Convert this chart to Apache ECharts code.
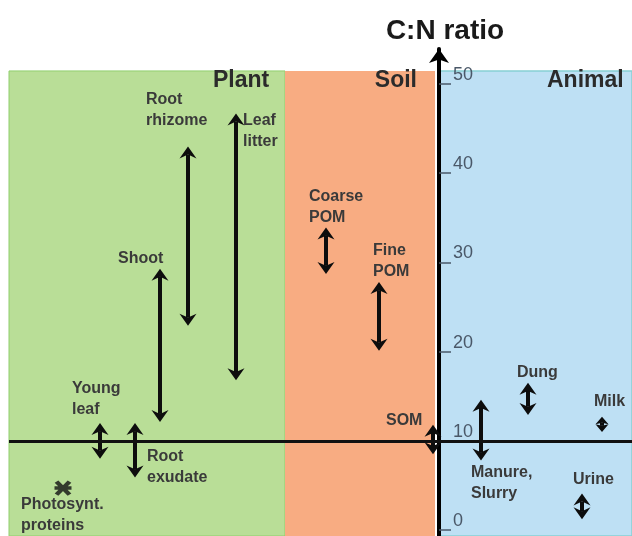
<!DOCTYPE html>
<html>
<head>
<meta charset="utf-8">
<title>C:N ratio</title>
<script src="https://cdn.jsdelivr.net/npm/echarts@6/dist/echarts.min.js"></script>
<style>
  html, body { margin: 0; padding: 0; background: #fff; }
  #chart { width: 632px; height: 536px; }
</style>
</head>
<body>
<div id="chart"></div>
<script>
// pools: horizontal place (px from the C:N axis) and C:N range
var pools  = ['Young leaf', 'Root exudate', 'Shoot', 'Root rhizome', 'Leaf litter', 'Coarse POM', 'Fine POM', 'SOM', 'Manure, Slurry', 'Dung', 'Milk', 'Urine'];
var poolX  = [-339, -304, -279, -251, -203, -113, -60, -6, 42, 89, 163, 143];
var cnLow  = [8.0, 5.9, 12.1, 22.9, 16.8, 28.7, 20.1, 8.5, 7.8, 12.9, 11.0, 1.2];
var cnHigh = [12.0, 12.0, 29.3, 43.0, 46.7, 33.9, 27.8, 11.8, 14.6, 16.5, 12.7, 4.1];
// single value: photosynthetic proteins
var photoX  = [-376];
var photoCN = [4.7];
// background zones
var zones    = ['Plant', 'Soil', 'Animal'];
var zoneFrom = [-430, -154, 1];
var zoneTo   = [-154, -4, 200];
var yTicks   = [0, 10, 20, 30, 40, 50];
var refLine  = 10;

var yMin = -0.67, yMax = 53.92, zoneTop = 51.46;
var FONT = '"Liberation Sans", Arial, sans-serif';
var INK = '#0d0d0d';

var zoneStyle = [
    {color: '#b9de97', borderColor: '#8fcf6d', borderWidth: 1},
    {color: '#f8ac82', borderWidth: 0},
    {color: '#bee0f4', borderColor: '#86d0d4', borderWidth: 1.5}
];

// double headed arrow from cnLow to cnHigh
function renderArrow(params, api) {
    var x = api.value(0);
    var top = api.coord([x, api.value(2)]);
    var bot = api.coord([x, api.value(1)]);
    var cx = top[0];
    var len = bot[1] - top[1];
    var hl = Math.min(12, len / 2);
    var hw = Math.max(6.5, hl * 8.5 / 12);
    var notch = hl * (hl < 12 ? 0.8 : 0.68);
    return {
        type: 'group',
        children: [
            {type: 'line', shape: {x1: cx, y1: top[1] + notch, x2: cx, y2: bot[1] - notch},
             style: {stroke: INK, lineWidth: 4}},
            {type: 'polygon', shape: {points: [[cx, top[1]], [cx - hw, top[1] + hl], [cx, top[1] + notch], [cx + hw, top[1] + hl]]},
             style: {fill: INK}},
            {type: 'polygon', shape: {points: [[cx, bot[1]], [cx - hw, bot[1] - hl], [cx, bot[1] - notch], [cx + hw, bot[1] - hl]]},
             style: {fill: INK}}
        ]
    };
}

// label text and where it sits (left, top)
var labels = [
    {text: 'Root\nrhizome', x: 146, y: 89},
    {text: 'Leaf\nlitter', x: 243, y: 110},
    {text: 'Shoot', x: 118, y: 248},
    {text: 'Young\nleaf', x: 72, y: 378},
    {text: 'Root\nexudate', x: 147, y: 446},
    {text: 'Photosynt.\nproteins', x: 21, y: 494},
    {text: 'Coarse\nPOM', x: 309, y: 186},
    {text: 'Fine\nPOM', x: 373, y: 240},
    {text: 'SOM', x: 386, y: 410},
    {text: 'Manure,\nSlurry', x: 471, y: 462},
    {text: 'Dung', x: 517, y: 362},
    {text: 'Milk', x: 594, y: 391},
    {text: 'Urine', x: 573, y: 469}
];

var graphics = labels.map(function (l) {
    return {type: 'text', x: l.x, y: l.y, z: 10,
        style: {text: l.text, font: 'bold 16px ' + FONT, fill: '#3a3a3a', lineHeight: 21, verticalAlign: 'top'}};
});
graphics.push(
    {type: 'text', x: 213, y: 81, z: 10, style: {text: zones[0], font: 'bold 23px ' + FONT, fill: '#2b2b2b', verticalAlign: 'middle'}},
    {type: 'text', x: 417, y: 81, z: 10, style: {text: zones[1], font: 'bold 23px ' + FONT, fill: '#2b2b2b', align: 'right', verticalAlign: 'middle'}},
    {type: 'text', x: 547, y: 81, z: 10, style: {text: zones[2], font: 'bold 23px ' + FONT, fill: '#2b2b2b', verticalAlign: 'middle'}},
    {type: 'text', x: 445, y: 31, z: 10, style: {text: 'C:N ratio', font: 'bold 28px ' + FONT, fill: '#1a1a1a', align: 'center', verticalAlign: 'middle'}}
);

var chart = echarts.init(document.getElementById('chart'));
chart.setOption({
    animation: false,
    grid: {left: 9, right: 0, top: 49, bottom: 0},
    xAxis: {type: 'value', min: -430, max: 193, show: false},
    yAxis: {
        type: 'value', min: yMin, max: yMax, z: 3,
        position: 'left', offset: -430,
        axisLine: {show: true, onZero: false, symbol: ['none', 'arrow'], symbolSize: [15, 14],
            lineStyle: {color: '#000', width: 4}},
        axisTick: {show: true, inside: true, length: 12, customValues: yTicks,
            lineStyle: {color: '#4a5868', width: 1.5}},
        axisLabel: {inside: true, margin: 14, customValues: yTicks, verticalAlign: 'bottom',
            color: '#4a5868', fontSize: 18, fontFamily: FONT},
        splitLine: {show: false}
    },
    graphic: graphics,
    series: [
        {
            type: 'line', data: [], z: 1, silent: true,
            markArea: {
                silent: true,
                data: zones.map(function (z, i) {
                    return [{xAxis: zoneFrom[i], yAxis: yMin - 1, itemStyle: zoneStyle[i]},
                            {xAxis: zoneTo[i], yAxis: zoneTop}];
                })
            }
        },
        {
            type: 'line', data: [], z: 2, silent: true,
            markLine: {silent: true, symbol: 'none', label: {show: false},
                lineStyle: {color: '#111', width: 3, type: 'solid'},
                data: [{yAxis: refLine}]}
        },
        {
            type: 'custom', z: 4, clip: false,
            renderItem: renderArrow,
            encode: {x: 0, y: [1, 2]},
            data: pools.map(function (p, i) { return [poolX[i], cnLow[i], cnHigh[i]]; })
        },
        {
            type: 'scatter', z: 4,
            symbol: 'path://M0,6.5L17,6.5M2,0L15,13M15,0L2,13',
            symbolSize: [17, 13],
            itemStyle: {color: 'none', borderColor: '#111', borderWidth: 4},
            data: photoX.map(function (x, i) { return [x, photoCN[i]]; })
        }
    ]
});
</script>
</body>
</html>
